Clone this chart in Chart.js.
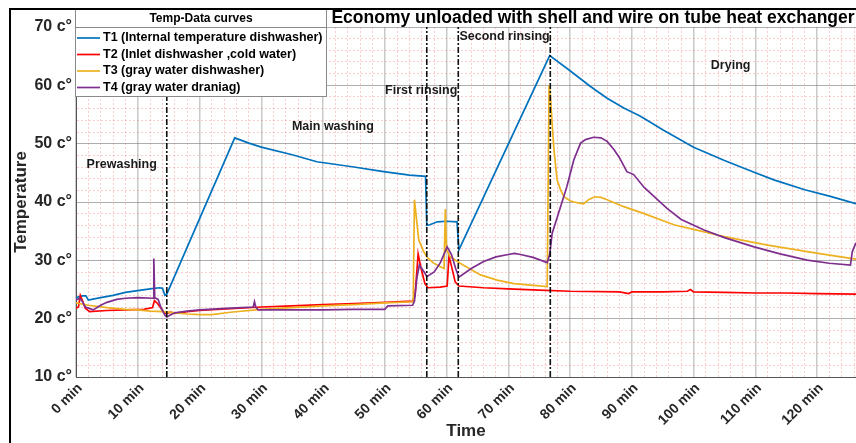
<!DOCTYPE html>
<html>
<head>
<meta charset="utf-8">
<script src="https://cdn.jsdelivr.net/npm/chart.js@4/dist/chart.umd.min.js"></script>
<style>
  html, body { margin: 0; padding: 0; background: #fff; overflow: hidden; }
  canvas { display: block; }
</style>
</head>
<body>
<canvas id="tempChart" width="856" height="443"></canvas>
<script>
// --- data ---
const chartTitle = 'Economy unloaded with shell and wire on tube heat exchanger';
const legendTitle = 'Temp-Data curves';
const seriesNames = [
  'T1 (Internal temperature dishwasher)',
  'T2 (Inlet dishwasher ,cold water)',
  'T3 (gray water dishwasher)',
  'T4 (gray water draniag)'
];

// T1 internal temperature
const t1Time = [0, 1.0, 1.6, 2.0, 4, 6, 8, 10, 12, 13.5, 14.0, 14.4, 14.7, 25.7, 28, 30, 35, 39, 45, 49.8, 54, 56.6,
  56.8, 57.3, 58.5, 60, 61.7, 62.0, 76.7, 80, 83.3, 86, 88.7, 91.4, 95, 100, 105, 110, 113, 118, 122, 126.3];
const t1Temp = [23.6, 23.9, 23.9, 23.2, 23.6, 24.0, 24.5, 24.8, 25.1, 25.3, 25.2, 24.0, 24.2, 51.0, 50.1, 49.4, 48.1, 46.9, 46.0, 45.2, 44.6, 44.4,
  36.0, 36.1, 36.6, 36.7, 36.6, 31.8, 65.1, 62.5, 59.8, 57.8, 56.1, 54.7, 52.4, 49.4, 47.1, 45.0, 43.8, 42.1, 41.0, 39.7];

// T2 inlet cold water
const t2Time = [0, 0.4, 0.7, 1.0, 1.5, 2.2, 5, 8, 11, 12.4, 12.7, 13.2, 14.3, 14.7, 15.3, 16, 18, 20, 25, 30, 35, 40, 45, 50, 54.5,
  54.9, 55.4, 55.9, 56.5, 57.0, 59, 60.1, 60.4, 60.8, 61.4, 62, 66, 70, 75, 80, 88, 89.5, 90, 95, 99, 99.5, 100, 105, 110, 115, 120, 126.3];
const t2Temp = [21.8, 22.0, 24.0, 23.2, 21.8, 21.2, 21.4, 21.5, 21.6, 21.9, 23.1, 22.6, 21.0, 20.9, 21.1, 20.9, 21.2, 21.4, 21.7, 22.0, 22.2, 22.4, 22.6, 22.8, 23.0,
  24.0, 31.1, 28.5, 26.0, 25.3, 25.4, 25.6, 30.7, 29.0, 26.3, 25.6, 25.3, 25.1, 24.9, 24.7, 24.6, 24.3, 24.6, 24.6, 24.7, 25.0, 24.6, 24.5, 24.4, 24.4, 24.3, 24.2];

// T3 gray water dishwasher
const t3Time = [0, 2, 5, 8, 10, 12, 14, 16, 18, 20, 22, 25, 30, 35, 40, 45, 50, 54.6, 54.8, 55.5, 56.3, 56.8, 57.8, 59.0, 59.6,
  59.8, 60.0, 60.6, 62.2, 65.5, 68.2, 70.9, 73.6, 76.3, 76.6, 76.8, 77.0, 77.4, 77.9, 78.5, 79.0, 80, 80.6, 81.5, 82.2,
  83, 84, 85, 86, 88.7, 92, 96.8, 100, 104, 107.6, 112, 118.4, 122, 126.3];
const t3Temp = [22.7, 22.3, 21.9, 21.6, 21.5, 21.3, 21.2, 21.0, 20.8, 20.7, 20.7, 21.1, 21.6, 21.9, 22.2, 22.4, 22.7, 22.9, 40.4, 33.5, 31.5, 30.6, 29.6, 28.9, 28.6,
  38.8, 31.8, 30.6, 29.5, 27.5, 26.6, 26.0, 25.75, 25.5, 60.0, 58.5, 55.0, 48.9, 43.8, 42.0, 40.9, 40.2, 40.0, 39.8, 39.7,
  40.4, 40.9, 40.8, 40.4, 39.2, 38.0, 36.1, 35.3, 34.3, 33.5, 32.6, 31.5, 30.9, 30.2];

// T4 gray water drainage
const t4Time = [0, 0.6, 1.0, 1.5, 2.8, 4, 5, 6.6, 8, 10, 12.5, 12.6, 12.75, 13.3, 13.8, 14.4, 14.7, 15.2, 16, 18, 20, 25, 28.7, 28.9, 29.1, 29.5,
  35, 40, 45, 50.0, 50.5, 54.5, 54.8, 55.2, 55.6, 56.5, 56.8, 58.0, 59, 60.1, 60.8, 61.5, 62, 64, 66, 68, 70, 71, 72, 74, 76.3,
  76.7, 77.1, 79.5, 80.6, 81.7, 82.5, 83.8, 85, 86, 87.1, 88, 89.2, 90.3, 92, 95.7, 98, 101.7, 105, 109.8, 114, 118.4, 122, 125.4, 125.7, 126.3];
const t4Temp = [23.2, 23.5, 23.0, 22.0, 21.5, 22.3, 22.8, 23.3, 23.5, 23.6, 23.5, 30.3, 23.6, 23.3, 21.8, 20.6, 20.3, 20.6, 21.0, 21.3, 21.5, 21.8, 22.0, 22.9, 22.0, 21.5,
  21.5, 21.5, 21.6, 21.6, 22.2, 22.3, 23.0, 27.0, 29.2, 27.8, 27.2, 28.0, 29.6, 32.3, 31.0, 28.5, 27.1, 28.6, 29.8, 30.6, 31.0, 31.2, 31.0, 30.5, 29.6,
  31.0, 34.6, 42.7, 47.2, 50.1, 50.7, 51.1, 51.0, 50.4, 49.0, 47.6, 45.2, 44.7, 42.5, 38.9, 37.0, 35.2, 33.9, 32.3, 31.1, 30.05, 29.5, 29.2, 31.5, 33.0];

// phase boundaries (min) and phase names
const phaseBounds = [14.7, 56.8, 61.9, 76.8];
const phaseNames = ['Prewashing', 'Main washing', 'First rinsing', 'Second rinsing', 'Drying'];

// axis ranges
const timeMin = 0, timeMax = 126.3, tempMin = 10, tempMax = 70;

// --- styles ---
const seriesColors = ['#0072BD', '#FF0000', '#EDB120', '#7E2F8E'];
const phaseLabelAt = [[7.4, 46.5], [41.6, 52.9], [55.9, 59.1], [69.4, 68.4], [106, 63.4]];
const FONT = '"Liberation Sans", Arial, sans-serif';

const toPoints = (ts, vs) => ts.map((t, i) => ({ x: t, y: vs[i] }));
const seriesData = [toPoints(t1Time, t1Temp), toPoints(t2Time, t2Temp), toPoints(t3Time, t3Temp), toPoints(t4Time, t4Temp)];

const datasets = seriesData.map((pts, i) => ({
  label: seriesNames[i],
  data: pts,
  borderColor: seriesColors[i],
  borderWidth: 1.7,
  pointRadius: 0,
  tension: 0,
  order: 4 - i
}));
phaseBounds.forEach(b => datasets.push({
  label: '',
  data: [{ x: b, y: tempMin }, { x: b, y: tempMax }],
  borderColor: '#111',
  borderWidth: 1.6,
  borderDash: [6, 2, 2, 2],
  pointRadius: 0,
  order: 0
}));

const isMajor = ctx => ctx.tick && Math.round(ctx.tick.value) % 10 === 0;

// decorations: frame, title, legend box, phase labels
const decor = {
  id: 'decor',
  afterDraw(chart) {
    const c = chart.ctx;
    const xs = chart.scales.x, ys = chart.scales.y;
    c.save();

    // phase labels
    c.fillStyle = '#1a1a1a';
    c.font = 'bold 12.5px ' + FONT;
    c.textAlign = 'center';
    c.textBaseline = 'middle';
    phaseNames.forEach((n, i) => {
      c.fillText(n, xs.getPixelForValue(phaseLabelAt[i][0]), ys.getPixelForValue(phaseLabelAt[i][1]));
    });

    // title
    c.fillStyle = '#000';
    c.font = 'bold 17.5px ' + FONT;
    c.fillText(chartTitle, 593, 18);

    // legend box
    c.fillStyle = '#fff';
    c.fillRect(75.5, 9.5, 251, 87);
    c.strokeStyle = '#8a8a8a';
    c.lineWidth = 1;
    c.strokeRect(75.5, 9.5, 251, 87);
    c.beginPath();
    c.moveTo(75.5, 27.5);
    c.lineTo(326.5, 27.5);
    c.stroke();
    c.fillStyle = '#000';
    c.font = 'bold 12px ' + FONT;
    c.fillText(legendTitle, 201, 19);
    c.textAlign = 'left';
    c.font = 'bold 12.5px ' + FONT;
    seriesNames.forEach((n, i) => {
      const y = 38 + i * 16.5;
      c.strokeStyle = seriesColors[i];
      c.lineWidth = 1.7;
      c.beginPath();
      c.moveTo(77, y);
      c.lineTo(100, y);
      c.stroke();
      c.fillStyle = '#000';
      c.fillText(n, 103, y);
    });

    // figure frame
    c.strokeStyle = '#000';
    c.lineWidth = 2;
    c.strokeRect(10, 9, 1000, 1000);
    c.restore();
  }
};

new Chart(document.getElementById('tempChart'), {
  type: 'line',
  data: { datasets },
  plugins: [decor],
  options: {
    responsive: false,
    animation: false,
    layout: { padding: { top: 27, left: 0, right: 0, bottom: 0 } },
    plugins: { legend: { display: false }, tooltip: { enabled: false } },
    scales: {
      x: {
        type: 'linear',
        min: timeMin,
        max: timeMax,
        afterFit: s => { s.height = 66; s.paddingRight = 0; },
        ticks: {
          stepSize: 2,
          includeBounds: false,
          autoSkip: false,
          minRotation: 45,
          maxRotation: 45,
          labelOffset: 4,
          padding: 3,
          color: '#262626',
          font: { family: FONT, size: 14, weight: 'bold' },
          callback: v => Math.round(v) % 10 === 0 ? v + ' min' : ''
        },
        grid: {
          drawTicks: false,
          color: ctx => isMajor(ctx) ? 'rgba(150,150,150,0.5)' : 'rgba(240,110,110,0.35)',
          lineWidth: ctx => isMajor(ctx) ? 1.5 : 1
        },
        border: { display: true, color: '#555', width: 1, dash: ctx => isMajor(ctx) || !ctx.tick ? [] : [2, 2] },
        title: {
          display: true,
          text: 'Time',
          color: '#262626',
          font: { family: FONT, size: 17, weight: 'bold' },
          padding: { top: 0, bottom: 1 }
        }
      },
      y: {
        min: tempMin,
        max: tempMax,
        afterFit: s => { s.width = 76; },
        ticks: {
          stepSize: 2,
          autoSkip: false,
          padding: 4,
          color: '#262626',
          font: { family: FONT, size: 16, weight: 'bold' },
          callback: v => Math.round(v) % 10 === 0 ? v + ' c°' : ''
        },
        grid: {
          drawTicks: false,
          color: ctx => isMajor(ctx) ? 'rgba(120,120,120,0.6)' : 'rgba(240,110,110,0.35)',
          lineWidth: 1
        },
        border: { display: true, color: '#555', width: 1, dash: ctx => isMajor(ctx) || !ctx.tick ? [] : [2, 2] },
        title: {
          display: true,
          text: 'Temperature',
          color: '#262626',
          font: { family: FONT, size: 17, weight: 'bold' },
          padding: { top: 11, bottom: 0 }
        }
      }
    }
  }
});
</script>
</body>
</html>
